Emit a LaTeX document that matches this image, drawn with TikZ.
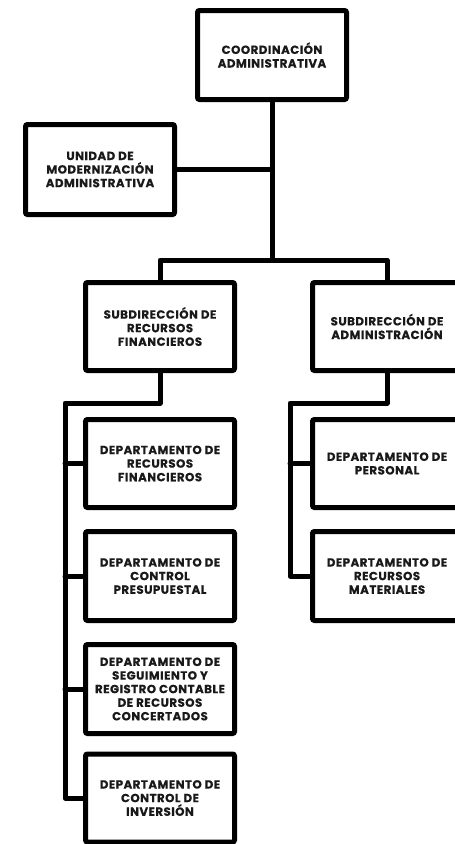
\documentclass[tikz,border=0pt]{standalone}
\usepackage{fontspec}
\setmainfont{Poppins}[LetterSpace=4,BoldFeatures={FakeBold=0.4}]
\begin{document}
\begin{tikzpicture}[x=1pt,y=-1pt,
  box/.style={draw=black,line width=5pt,rounded corners=2pt,minimum width=149pt,minimum height=88pt,
    align=center,inner sep=0pt,text=black!90,font=\fontsize{11.8}{13.6}\selectfont\bfseries},
  conn/.style={draw=black,line width=5pt,line join=round,line cap=round}]
\clip (0,0) rectangle (455,844);
\useasboundingbox (0,0) rectangle (455,844);
\node[box,minimum height=89pt] (top) at (272,55) {COORDINACIÓN\\ADMINISTRATIVA};
\node[box,minimum height=90pt] (uni) at (100,169.5) {UNIDAD DE\\MODERNIZACIÓN\\ADMINISTRATIVA};
\node[box] (subL) at (160,326.5) {SUBDIRECCIÓN DE\\RECURSOS\\FINANCIEROS};
\node[box] (subR) at (387,326.5) {SUBDIRECCIÓN DE\\ADMINISTRACIÓN};
\node[box] (dL1) at (160,463.5) {DEPARTAMENTO DE\\RECURSOS\\FINANCIEROS};
\node[box,minimum height=89pt] (dL2) at (160,576) {DEPARTAMENTO DE\\CONTROL\\PRESUPUESTAL};
\node[box,minimum height=89pt] (dL3) at (160,689) {DEPARTAMENTO DE\\SEGUIMIENTO Y\\REGISTRO CONTABLE\\DE RECURSOS\\CONCERTADOS};
\node[box] (dL4) at (160,798) {DEPARTAMENTO DE\\CONTROL DE\\INVERSIÓN};
\node[box] (dR1) at (387,463.5) {DEPARTAMENTO DE\\PERSONAL};
\node[box,minimum height=89pt] (dR2) at (387,576) {DEPARTAMENTO DE\\RECURSOS\\MATERIALES};
\coordinate (bar) at (272,260);
\coordinate (lb) at (65,403);
\coordinate (rb) at (290,403);
\draw[conn] (top.south) -- (bar);
\draw[conn] (uni.east) -- (uni.east -| top.south);
\draw[conn] (subL.north) |- (bar) -| (subR.north);
\draw[conn] (subL.south) |- (lb) |- (dL4.west);
\draw[conn] (lb |- dL1.west) -- (dL1.west);
\draw[conn] (lb |- dL2.west) -- (dL2.west);
\draw[conn] (lb |- dL3.west) -- (dL3.west);
\draw[conn] (subR.south) |- (rb) |- (dR2.west);
\draw[conn] (rb |- dR1.west) -- (dR1.west);
\end{tikzpicture}
\end{document}
